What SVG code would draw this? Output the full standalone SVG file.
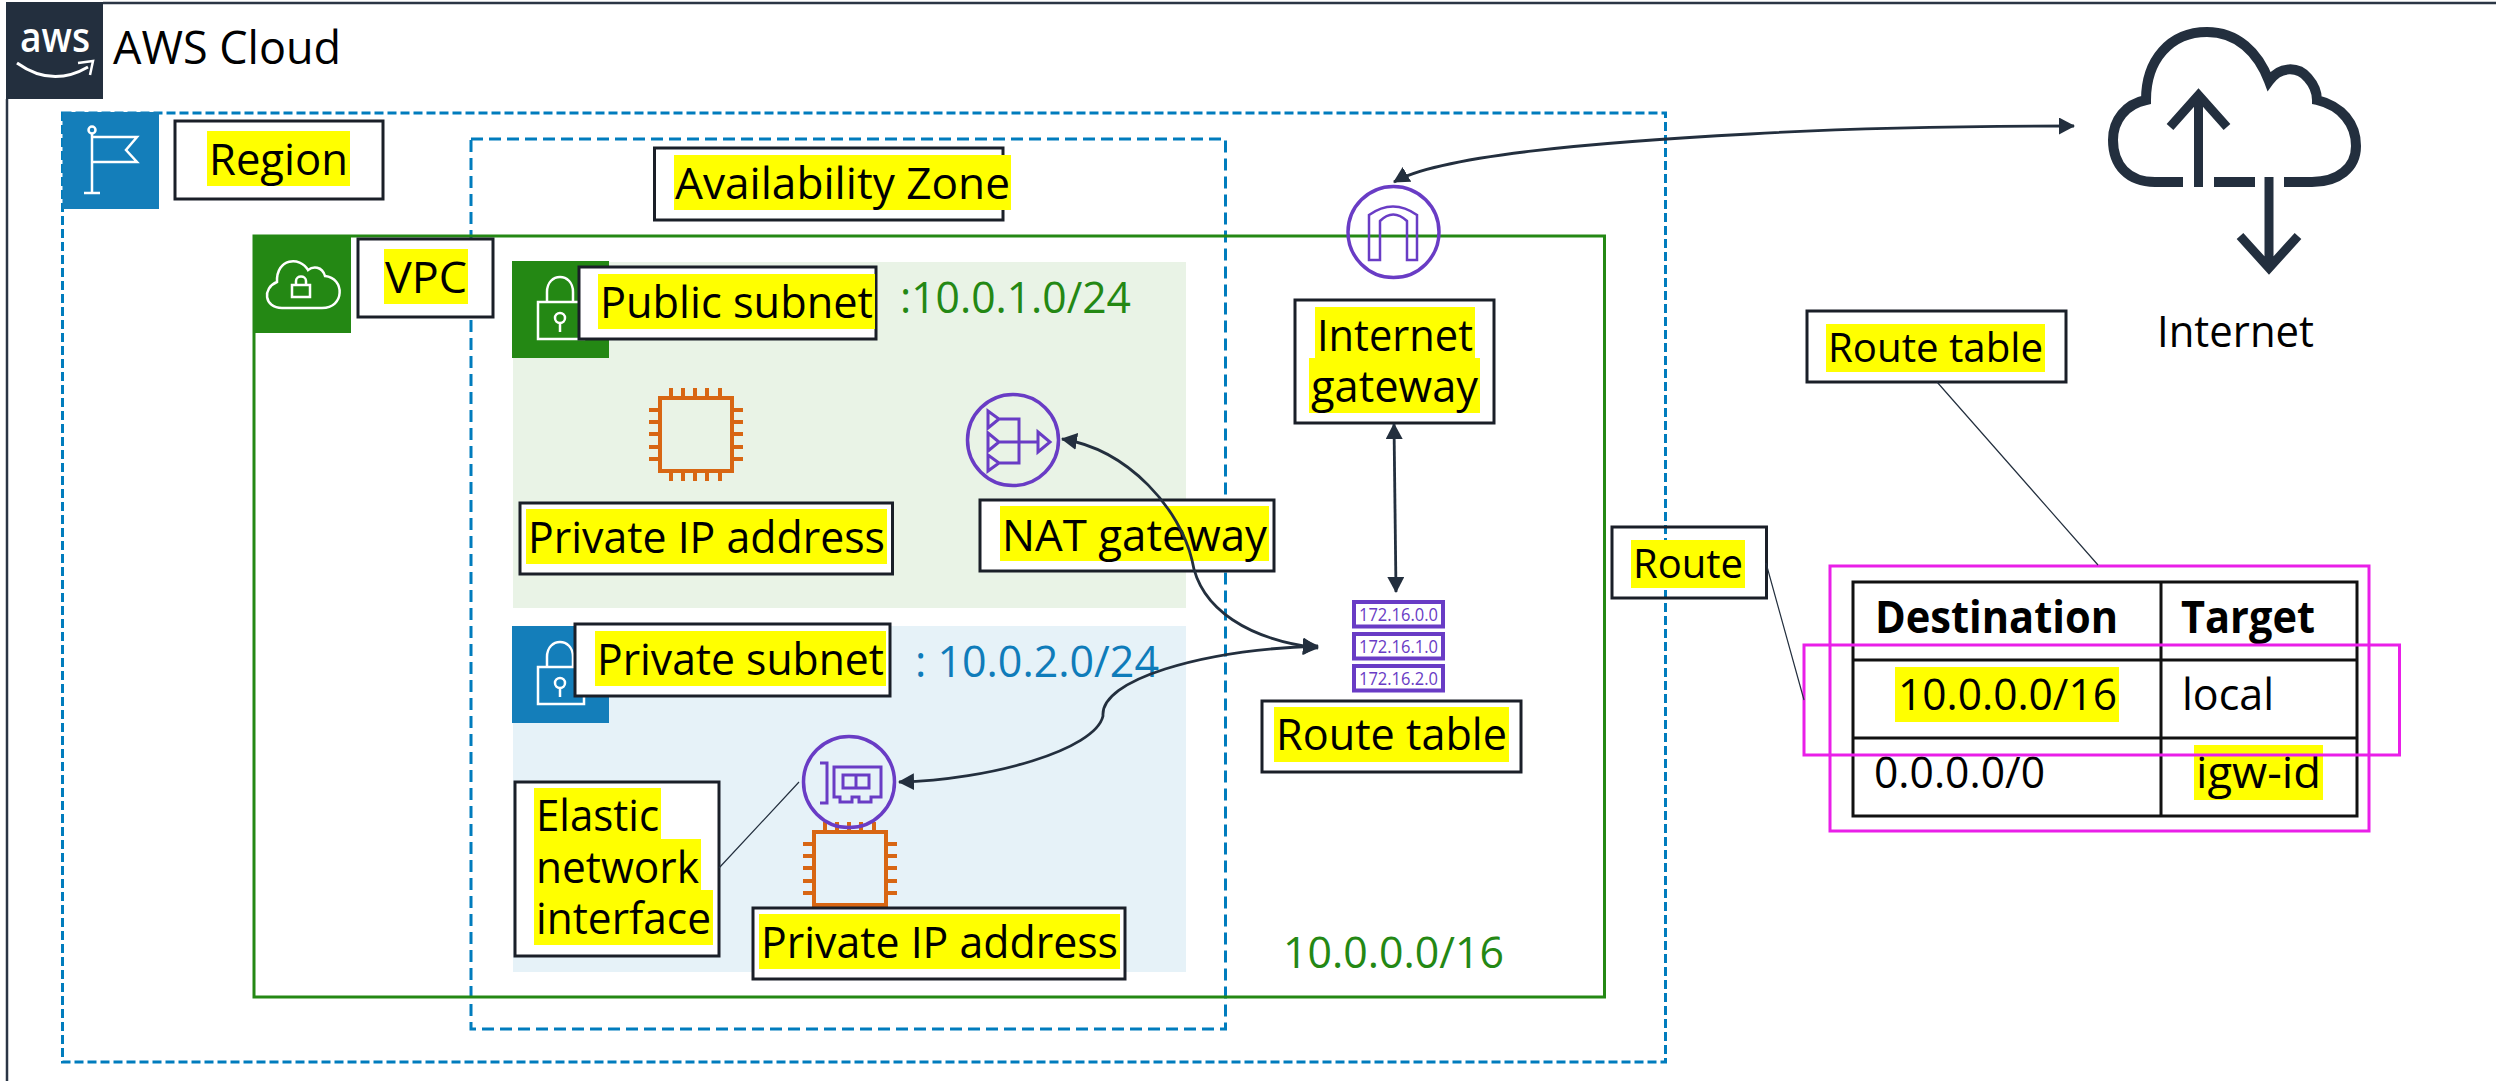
<svg xmlns="http://www.w3.org/2000/svg" width="2496" height="1081" viewBox="0 0 2496 1081">
<style>
text{font-family:"Open Sans","Noto Sans","Liberation Sans",sans-serif;font-size:44px;fill:#000}
.box{fill:#fff;stroke:#1a1f28;stroke-width:3}
.open{fill:none;stroke:#1a1f28;stroke-width:3}
.hl{fill:#ff0}
.green{fill:#248814}
.blue{fill:#0f7cba}
.wh{fill:none;stroke:#fff;stroke-width:2.5}
.pur{fill:none;stroke:#693cc5;stroke-width:3.5}
.or{fill:none;stroke:#d86613;stroke-width:4}
.cl{fill:none;stroke:#232f3e;stroke-width:10}
.mag{fill:none;stroke:#e91fe8;stroke-width:3}
.tb{fill:none;stroke:#111;stroke-width:3}
.con{fill:none;stroke:#232f3e;stroke-width:2.8}
.thin{fill:none;stroke:#232f3e;stroke-width:1.2}
.rt{font-size:18.5px;fill:#693cc5}
</style>
<defs>
<marker id="arrow" markerUnits="userSpaceOnUse" markerWidth="18" markerHeight="18" refX="15" refY="8.5" orient="auto-start-reverse"><path d="M0 0L16 8.5L0 17Z" fill="#232f3e"/></marker>
<g id="chip"><rect x="11" y="10" width="72" height="73" class="or"/><path class="or" d="M22 0V10M34 0V10M46 0V10M58 0V10M71 0V10M22 83V93M34 83V93M46 83V93M58 83V93M71 83V93M0 22H11M0 34H11M0 46H11M0 59H11M0 71H11M83 22H94M83 34H94M83 46H94M83 59H94M83 71H94"/></g>
<g id="lock"><path class="wh" d="M538 302H584V339H538ZM547 302V292C547 272 573 272 573 292V302"/><circle class="wh" cx="560" cy="318" r="5"/><path class="wh" d="M560 323V332"/></g>
</defs>
<rect width="2496" height="1081" fill="#fff"/>
<g id="aws-cloud">
<path d="M7 99V1081M103 3H2496" fill="none" stroke="#2b3645" stroke-width="2.5"/>
<rect x="6" y="2" width="97" height="97" fill="#232f3e"/>
<text x="20" y="52" textLength="70" lengthAdjust="spacingAndGlyphs" style="fill:#fff;font-size:42px;font-weight:600">aws</text>
<path d="M17 63Q52 88 88 67" fill="none" stroke="#fff" stroke-width="3"/><path d="M78 63L93 61L90 75" fill="none" stroke="#fff" stroke-width="2.5"/>
<text x="113" y="64" style="font-size:45px" textLength="228" lengthAdjust="spacingAndGlyphs">AWS Cloud</text>
</g>
<g id="region">
<rect x="62.500" y="113" width="1603" height="949" fill="none" stroke="#007cbd" stroke-width="3" stroke-dasharray="9 4"/>
<rect x="62.500" y="112" width="96.500" height="97" fill="#147eba"/>
<circle class="wh" cx="92" cy="130" r="3.500"/><path class="wh" d="M92 134V193M84 193H100M92 137H137L126 150L137 162H92"/>
<rect x="175" y="121" width="208" height="78" class="box"/><rect x="207" y="131" width="143" height="55" class="hl"/>
<text x="209" y="175" textLength="139" lengthAdjust="spacingAndGlyphs">Region</text>
</g>
<g id="availability-zone">
<rect x="471" y="139" width="754.500" height="890" fill="none" stroke="#007cbd" stroke-width="3" stroke-dasharray="12 6"/>
<rect x="654.500" y="148" width="348.500" height="72" class="box"/><rect x="674" y="155" width="337" height="55" class="hl"/>
<text x="675" y="199" textLength="335" lengthAdjust="spacingAndGlyphs">Availability Zone</text>
</g>
<g id="vpc">
<rect x="254" y="236" width="1350.500" height="761" fill="none" stroke="#248814" stroke-width="3"/>
<rect x="253" y="235" width="98" height="98" fill="#248814"/>
<path class="wh" d="M282 308H322C345 308 345 278 325 276C322 266 313 266 308 270C300 256 276 258 277 282C262 288 264 308 282 308Z"/>
<path class="wh" d="M292 285H310V297H292ZM296 285V281C296 275 306 275 306 281V285"/>
<rect x="358" y="239" width="135" height="78" class="box"/><rect x="384" y="249" width="84" height="55" class="hl"/>
<text x="385" y="293" textLength="82" lengthAdjust="spacingAndGlyphs">VPC</text>
<text x="1283" y="968" class="green" textLength="221" lengthAdjust="spacingAndGlyphs">10.0.0.0/16</text>
</g>
<g id="public-subnet">
<rect x="513" y="262" width="673" height="346" fill="#e9f3e6"/>
<rect x="512" y="261" width="97" height="97" fill="#248814"/>
<use href="#lock"/>
<rect x="579" y="267" width="297" height="72" class="box"/><rect x="598" y="274" width="277" height="55" class="hl"/>
<text x="600" y="318" textLength="273" lengthAdjust="spacingAndGlyphs">Public subnet</text>
<text x="900" y="313" class="green" textLength="231" lengthAdjust="spacingAndGlyphs">:10.0.1.0/24</text>
</g>
<g id="private-subnet">
<rect x="513" y="626" width="673" height="346" fill="#e6f2f8"/>
<rect x="512" y="626" width="97" height="97" fill="#147eba"/>
<use href="#lock" y="365"/>
<rect x="575" y="624" width="315" height="72" class="box"/><rect x="595" y="631" width="291" height="55" class="hl"/>
<text x="597" y="675" textLength="287" lengthAdjust="spacingAndGlyphs">Private subnet</text>
<text x="915" y="677" class="blue" textLength="244" lengthAdjust="spacingAndGlyphs">: 10.0.2.0/24</text>
</g>
<g id="instance-public">
<use href="#chip" x="649" y="388"/>
<rect x="520" y="503" width="372.500" height="71" class="box"/><rect x="526" y="509" width="361" height="55" class="hl"/>
<text x="528" y="553" textLength="357" lengthAdjust="spacingAndGlyphs">Private IP address</text>
</g>
<g id="nat-gateway">
<circle class="pur" cx="1013" cy="440" r="45.500"/>
<path class="pur" style="stroke-width:3" d="M988 411L999 419L988 428ZM988 433L999 442L988 451ZM988 455L999 463L988 471ZM999 419H1019V463H999M999 442H1038M1038 432L1050 442L1038 452Z"/>
<rect x="980" y="500" width="294" height="71" class="box"/><rect x="1000" y="506" width="269" height="55" class="hl"/>
<text x="1002" y="551" textLength="265" lengthAdjust="spacingAndGlyphs">NAT gateway</text>
</g>
<g id="instance-private">
<use href="#chip" x="803" y="822"/>
<rect x="753" y="908" width="372" height="71" class="box"/><rect x="759" y="914" width="361" height="55" class="hl"/>
<text x="761" y="958" textLength="357" lengthAdjust="spacingAndGlyphs">Private IP address</text>
</g>
<g id="elastic-network-interface">
<circle class="pur" cx="849" cy="782" r="45.500"/>
<path class="pur" style="stroke-width:3" d="M820 763H827V803H820M834 767H881V797H871V802H859V797H852V802H840V797H834ZM843 775H869V788H843ZM856 775V788"/>
<rect x="515" y="782" width="204" height="174" class="box"/>
<path class="hl" d="M534 788H661V839H701V890H713V945H534Z"/>
<text><tspan x="536" y="831" textLength="123" lengthAdjust="spacingAndGlyphs">Elastic</tspan><tspan x="536" y="883" textLength="163" lengthAdjust="spacingAndGlyphs">network</tspan><tspan x="536" y="934" textLength="175" lengthAdjust="spacingAndGlyphs">interface</tspan></text>
</g>
<g id="internet-gateway">
<circle class="pur" cx="1393.500" cy="232" r="45.500"/>
<path class="pur" style="stroke-width:2.500" d="M1369 260V215Q1393 198 1417 215V260H1407V221Q1393 208 1380 221V260Z"/>
<rect x="1295" y="300" width="199" height="123" class="box"/>
<path class="hl" d="M1315 307H1475V358H1480V413H1309V358H1315Z"/>
<text><tspan x="1317" y="351" textLength="156" lengthAdjust="spacingAndGlyphs">Internet</tspan><tspan x="1311" y="402" textLength="167" lengthAdjust="spacingAndGlyphs">gateway</tspan></text>
</g>
<g id="route-table-icon">
<rect x="1354" y="602" width="89" height="24.500" class="pur" style="stroke-width:4"/><rect x="1354" y="634" width="89" height="24.500" class="pur" style="stroke-width:4"/><rect x="1354" y="666" width="89" height="24.500" class="pur" style="stroke-width:4"/>
<text x="1359" y="621" class="rt" textLength="79" lengthAdjust="spacingAndGlyphs">172.16.0.0</text>
<text x="1359" y="653" class="rt" textLength="79" lengthAdjust="spacingAndGlyphs">172.16.1.0</text>
<text x="1359" y="685" class="rt" textLength="79" lengthAdjust="spacingAndGlyphs">172.16.2.0</text>
<rect x="1262" y="701" width="259" height="71" class="box"/><rect x="1274" y="707" width="235" height="55" class="hl"/>
<text x="1276" y="750" textLength="231" lengthAdjust="spacingAndGlyphs">Route table</text>
</g>
<g id="internet">
<path class="cl" d="M2183 182H2155C2128 182 2113 165 2113 140C2113 120 2126 104 2146 100C2146 60 2170 32 2207 32C2237 32 2258 52 2269 81C2280 66 2298 66 2308 78C2315 86 2317 94 2317 100C2342 106 2356 124 2356 146C2356 168 2338 182 2312 182H2284M2214 182H2255"/>
<path class="cl" style="stroke-width:9" d="M2198.500 187V100M2170 127L2198.500 95L2227 127M2269 177V264M2240 236L2269 268L2298 236"/>
<text x="2157" y="347" textLength="157" lengthAdjust="spacingAndGlyphs">Internet</text>
</g>
<g id="route-table-detail">
<rect x="1807" y="311" width="259" height="71" class="box"/><rect x="1826" y="324" width="219" height="48" class="hl"/>
<text x="1828" y="362" style="font-size:40px" textLength="215" lengthAdjust="spacingAndGlyphs">Route table</text>
<rect x="1853" y="582" width="504" height="234" class="tb"/>
<path class="tb" d="M2161 582V816M1853 660H2357M1853 738H2357"/>
<text x="1875" y="633" style="font-weight:700" textLength="243" lengthAdjust="spacingAndGlyphs">Destination</text>
<text x="2181" y="633" style="font-weight:700" textLength="134" lengthAdjust="spacingAndGlyphs">Target</text>
<rect x="1895" y="667" width="224" height="55" class="hl"/>
<text x="1898" y="710" textLength="219" lengthAdjust="spacingAndGlyphs">10.0.0.0/16</text>
<text x="2182" y="710" textLength="92" lengthAdjust="spacingAndGlyphs">local</text>
<text x="1874" y="788" textLength="171" lengthAdjust="spacingAndGlyphs">0.0.0.0/0</text>
<rect x="2194" y="745" width="129" height="55" class="hl"/>
<text x="2196" y="788" textLength="125" lengthAdjust="spacingAndGlyphs">igw-id</text>
<rect x="1830" y="566" width="539" height="265" class="mag"/>
<rect x="1804" y="645" width="595.500" height="110" class="mag"/>
</g>
<g id="route-label">
<rect x="1612" y="527" width="154.500" height="71" class="open"/><rect x="1631" y="540" width="114" height="48" class="hl"/>
<text x="1633" y="578" style="font-size:40px" textLength="110" lengthAdjust="spacingAndGlyphs">Route</text>
</g>
<g id="connectors">
<path class="con" marker-start="url(#arrow)" marker-end="url(#arrow)" d="M1394 182C1440 155 1600 142 1750 134C1850 128 1950 126 2074 126"/>
<path class="con" marker-start="url(#arrow)" marker-end="url(#arrow)" d="M1394 424L1396 592"/>
<path class="con" marker-start="url(#arrow)" marker-end="url(#arrow)" d="M1062 439C1130 450 1180 510 1192 560C1200 610 1250 640 1318 648"/>
<path class="con" marker-start="url(#arrow)" marker-end="url(#arrow)" d="M899 782C990 780 1095 750 1103 716C1100 680 1200 650 1318 646"/>
<path class="thin" d="M719 868L799 782M1766 563L1804 700M1937 382L2098 565"/>
</g>
</svg>
